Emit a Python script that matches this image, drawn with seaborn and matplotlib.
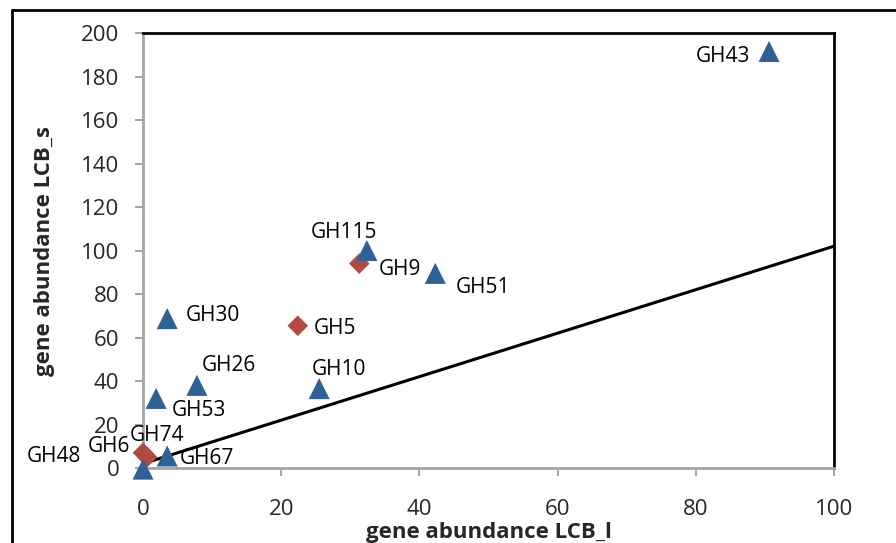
import numpy as np
import pandas as pd
import matplotlib.pyplot as plt
import seaborn as sns
from matplotlib.lines import Line2D

# data
tri_labels = ["GH43", "GH115", "GH51", "GH30", "GH26", "GH53", "GH10", "GH67", "GH48"]
tri_x = [90.6, 32.4, 42.3, 3.5, 7.8, 1.9, 25.5, 3.5, 0.0]
tri_y = [191.5, 100.0, 89.5, 68.7, 38.0, 32.0, 36.5, 5.5, -0.5]

dia_labels = ["GH9", "GH5", "GH6", "GH74"]
dia_x = [31.3, 22.4, 0.0, 0.6]
dia_y = [94.0, 65.4, 7.0, 5.0]

line_x = [0, 100]
line_y = [2, 102]

# label offsets from the marker, in pixels (dx right, dy up), text left edge / v-centre
offsets = {
    "GH43": (-73, -5), "GH115": (-56, 18), "GH51": (20, -14), "GH30": (19, 3),
    "GH26": (5, 20), "GH53": (16, -12), "GH10": (-7, 19), "GH67": (13, -2),
    "GH48": (-116, 13), "GH9": (19, -6), "GH5": (16, -3), "GH6": (-55, 6),
    "GH74": (-17, 22),
}

df = pd.DataFrame({
    "x": tri_x + dia_x,
    "y": tri_y + dia_y,
    "label": tri_labels + dia_labels,
    "kind": ["tri"] * len(tri_x) + ["dia"] * len(dia_x),
})

sns.set_style("white")
plt.rcParams["font.family"] = ["Open Sans", "DejaVu Sans"]

fig = plt.figure(figsize=(8.96, 5.43), dpi=100)
ax = fig.add_axes([0.1596, 0.1381, 0.7712, 0.8011])

ax.plot(line_x, line_y, color="black", lw=2.2, zorder=1)

sns.scatterplot(data=df[df.kind == "dia"], x="x", y="y", marker="D", s=110,
                color="#B04A42", edgecolor="none", ax=ax, zorder=3, legend=False,
                clip_on=False)
sns.scatterplot(data=df[df.kind == "tri"], x="x", y="y", marker="^", s=230,
                color="#2E6196", edgecolor="none", ax=ax, zorder=4, legend=False,
                clip_on=False)

px = 0.72  # points per pixel at dpi 100
for _, r in df.iterrows():
    dx, dy = offsets[r["label"]]
    ax.annotate(r["label"], (r["x"], r["y"]), xytext=(dx * px, dy * px),
                textcoords="offset points", ha="left", va="center",
                fontsize=15, color="black", zorder=5, annotation_clip=False)

ax.set_xlim(0, 100)
ax.set_ylim(0, 200)
ax.set_xticks(np.arange(0, 101, 20))
ax.set_yticks(np.arange(0, 201, 20))

for s in ["left", "bottom"]:
    ax.spines[s].set_color("#A6A6A6")
    ax.spines[s].set_linewidth(2)
for s in ["top", "right"]:
    ax.spines[s].set_color("black")
    ax.spines[s].set_linewidth(2)

ax.tick_params(axis="both", which="major", direction="out", length=6, width=1.5,
               color="#A6A6A6", labelsize=16)
ax.tick_params(axis="x", pad=16, bottom=True)
ax.tick_params(axis="y", pad=11, left=True)

ax.set_xlabel("gene abundance LCB_l", fontsize=16, fontweight="bold", labelpad=2)
ax.set_ylabel("gene abundance LCB_s", fontsize=16, fontweight="bold", labelpad=19)

# outer frame lines (top and left)
fig.add_artist(Line2D([12 / 896, 1], [1 - 10 / 543, 1 - 10 / 543], color="black", lw=2,
                      transform=fig.transFigure))
fig.add_artist(Line2D([12 / 896, 12 / 896], [0, 1 - 10 / 543], color="black", lw=2,
                      transform=fig.transFigure))

fig.savefig("out.png", dpi=100)
